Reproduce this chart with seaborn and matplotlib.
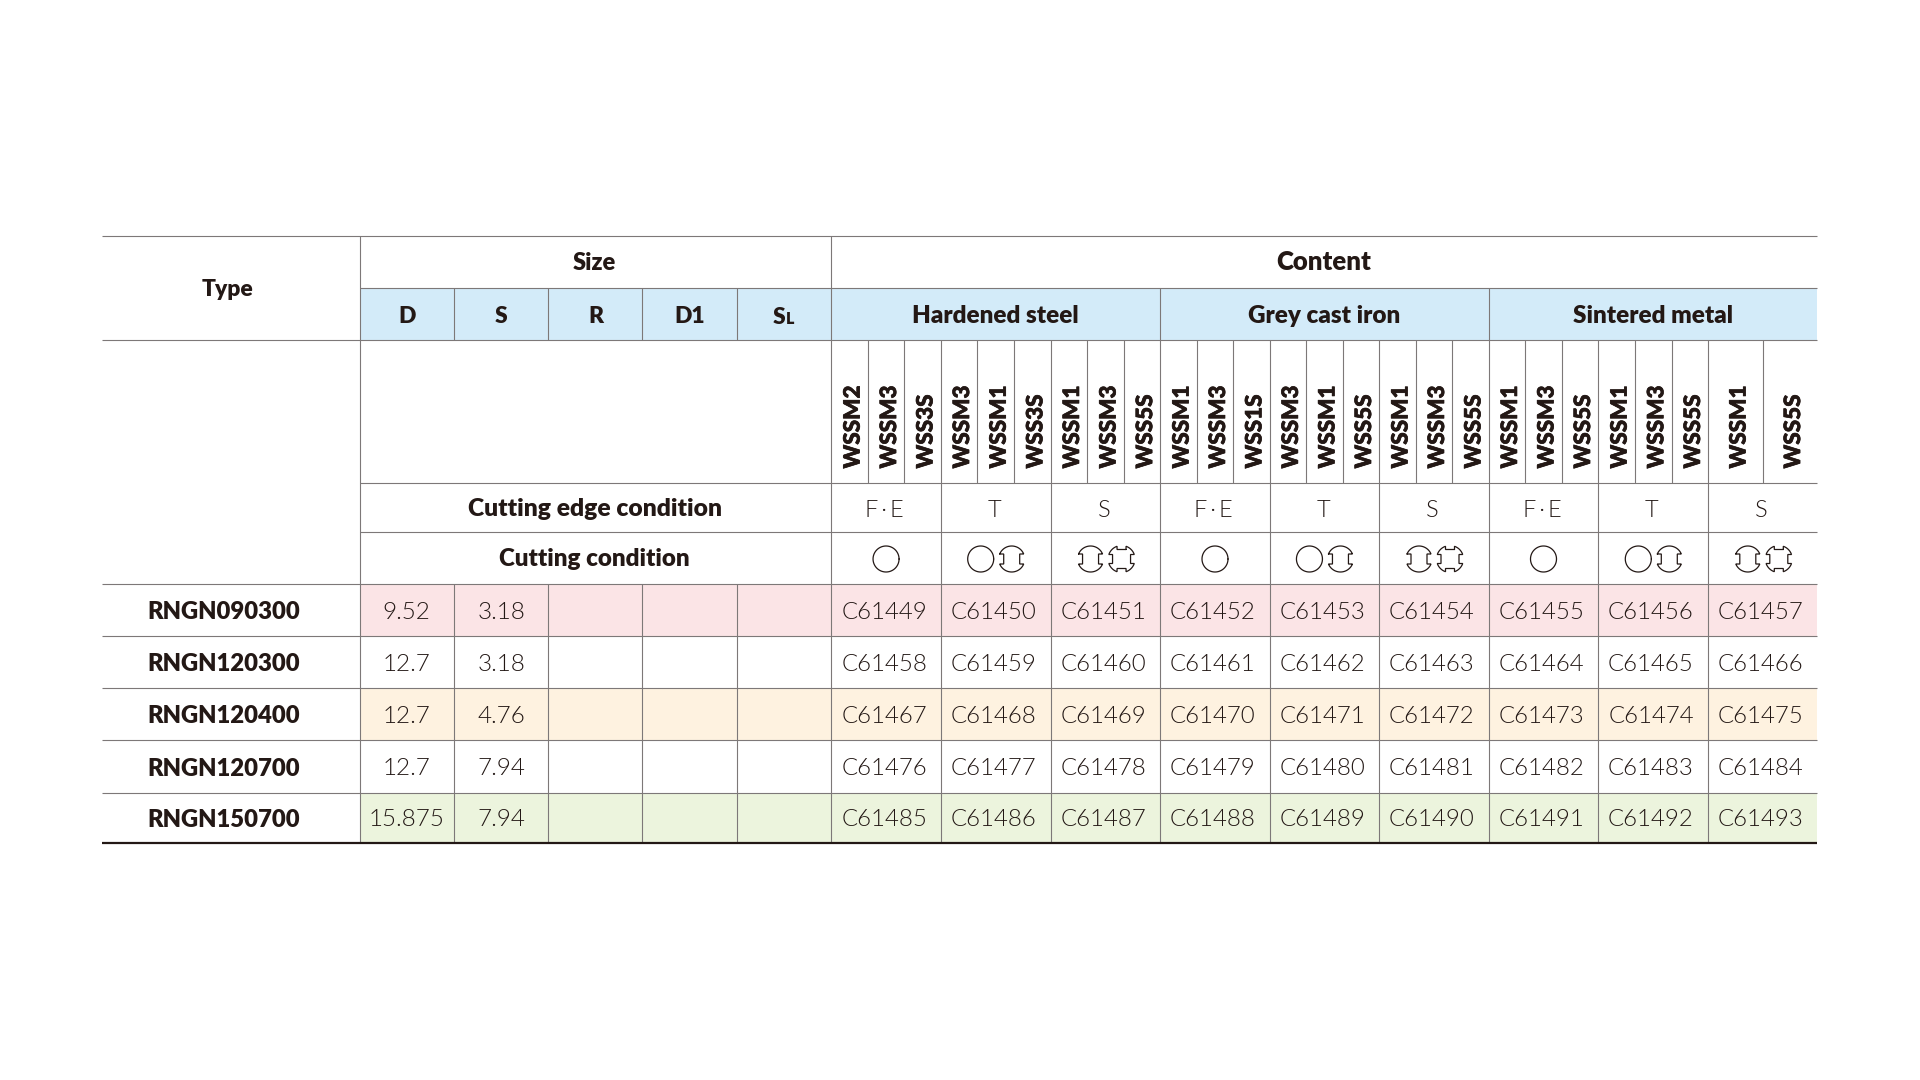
import numpy as np
import matplotlib
matplotlib.use('Agg')
from matplotlib import pyplot as plt
from matplotlib import patheffects
from matplotlib.colors import ListedColormap
import seaborn as sns

sns.set_theme(style='white')
plt.rcParams['font.family'] = ['Lato', 'DejaVu Sans']

types = ['RNGN090300', 'RNGN120300', 'RNGN120400', 'RNGN120700', 'RNGN150700']
size_heads = ['D', 'S', 'R', 'D1', '']
d_vals = ['9.52', '12.7', '12.7', '12.7', '15.875']
s_vals = ['3.18', '3.18', '4.76', '7.94', '7.94']
materials = ['Hardened steel', 'Grey cast iron', 'Sintered metal']
edge_cond = ['F\u2009·\u2009E', 'T', 'S', 'F\u2009·\u2009E', 'T', 'S', 'F\u2009·\u2009E', 'T', 'S']
cut_cond = ['O', 'OA', 'AB', 'O', 'OA', 'AB', 'O', 'OA', 'AB']
grades = [
    ['WSSM2', 'WSSM3', 'WSS3S'], ['WSSM3', 'WSSM1', 'WSS3S'], ['WSSM1', 'WSSM3', 'WSS5S'],
    ['WSSM1', 'WSSM3', 'WSS1S'], ['WSSM3', 'WSSM1', 'WSS5S'], ['WSSM1', 'WSSM3', 'WSS5S'],
    ['WSSM1', 'WSSM3', 'WSS5S'], ['WSSM1', 'WSSM3', 'WSS5S'], ['WSSM1', 'WSS5S'],
]
codes_1 = ['C61449', 'C61450', 'C61451', 'C61452', 'C61453', 'C61454', 'C61455', 'C61456', 'C61457']
codes_2 = ['C61458', 'C61459', 'C61460', 'C61461', 'C61462', 'C61463', 'C61464', 'C61465', 'C61466']
codes_3 = ['C61467', 'C61468', 'C61469', 'C61470', 'C61471', 'C61472', 'C61473', 'C61474', 'C61475']
codes_4 = ['C61476', 'C61477', 'C61478', 'C61479', 'C61480', 'C61481', 'C61482', 'C61483', 'C61484']
codes_5 = ['C61485', 'C61486', 'C61487', 'C61488', 'C61489', 'C61490', 'C61491', 'C61492', 'C61493']
codes = [codes_1, codes_2, codes_3, codes_4, codes_5]
row_colors = ['#fbe4e6', '#ffffff', '#fef2e0', '#ffffff', '#ecf4dd']

# layout in pixels
W, H = 1920, 1080
LEFT, RIGHT = 101.5, 1817.3
SIZE_X = np.array([359.6, 453.5, 548.4, 642.2, 736.6, 831.4])
GROUP_X = np.array([831.4, 940.7, 1050.7, 1160.4, 1269.6, 1379.3, 1488.7, 1598.3, 1708.3, 1817.3])
HEAD_Y = [236, 288.3, 340, 483.3, 532.3, 584.3]
ROW_Y = [584.3, 636.3, 688.3, 740.3, 793, 842.7]
TXT = '#231815'
LINE = '#7d7878'


def px_axes(x0, y0, x1, y1, **kw):
    return fig.add_axes([x0 / W, 1 - y1 / H, (x1 - x0) / W, (y1 - y0) / H], **kw)


def band(labels, color, x0, x1, y0, y1, dx=0, **text_kw):
    ax = px_axes(x0, y0, x1, y1)
    sns.heatmap(np.zeros((1, len(labels))), annot=np.array([labels]), fmt='', cbar=False,
                cmap=ListedColormap([color]), xticklabels=False, yticklabels=False,
                annot_kws=dict(color=TXT, va='center_baseline', **text_kw), ax=ax)
    for t in ax.texts:
        tx, ty = t.get_position()
        t.set_position((tx + dx * len(labels) / (x1 - x0), ty))
    return ax


def symbol(ax, kind, cx, cy):
    if kind == 'O':
        t = np.linspace(0, 2 * np.pi, 80)
        x, y = 13 * np.cos(t), 13 * np.sin(t)
    elif kind == 'A':
        a = np.arcsin(5 / 13)
        t1 = np.linspace(np.pi + a, 2 * np.pi - a, 30)
        t2 = np.linspace(a, np.pi - a, 30)
        x = np.r_[13 * np.cos(t1), 8, 8, 13 * np.cos(t2), -8, -8, 13 * np.cos(t1[0])]
        y = np.r_[13 * np.sin(t1), -5, 5, 13 * np.sin(t2), 5, -5, 13 * np.sin(t1[0])]
    else:
        a = np.arcsin(4.5 / 13.5)
        x, y = [], []
        for k, (sx, sy) in enumerate([(1, -1), (1, 1), (-1, 1), (-1, -1)]):
            t = np.linspace(a, np.pi / 2 - a, 8)
            px, py = sx * 13.5 * np.cos(t), sy * 13.5 * np.sin(t)
            if sx * sy > 0:
                px, py = px[::-1], py[::-1]
            if k % 2 == 0:
                x += [sx * 4.5]; y += [sy * 9.5]
                x += list(px[::-1]); y += list(py[::-1])
                x += [sx * 9]; y += [sy * 4.5]
            else:
                x += [sx * 9]; y += [sy * 4.5]
                x += list(px[::-1]); y += list(py[::-1])
                x += [sx * 4.5]; y += [sy * 9.5]
        x.append(x[0]); y.append(y[0])
        x, y = np.array(x), np.array(y)
    ax.plot(cx + x, cy + y, color=TXT, lw=0.9, solid_joinstyle='miter')


fig = plt.figure(figsize=(W / 100, H / 100), dpi=100, facecolor='white')

# blue header bands
band(size_heads, '#d3ebf9', SIZE_X[0], SIZE_X[-1], HEAD_Y[1], HEAD_Y[2], fontsize=16.5, fontweight='heavy')
band(materials, '#d3ebf9', GROUP_X[0], GROUP_X[-1], HEAD_Y[1], HEAD_Y[2], fontsize=17.5, fontweight='heavy')

# body rows
for i, row in enumerate(codes):
    size_row = [d_vals[i], s_vals[i], '', '', '']
    band(size_row, row_colors[i], SIZE_X[0], SIZE_X[-1], ROW_Y[i], ROW_Y[i + 1], fontsize=17.5, fontweight=300)
    band(row, row_colors[i], GROUP_X[0], GROUP_X[-1], ROW_Y[i], ROW_Y[i + 1], dx=-2, fontsize=17.3, fontweight=300)

# overlay with rules and the rest of the text
ov = px_axes(0, 0, W, H, facecolor='none', zorder=5)
ov.set_xlim(0, W)
ov.set_ylim(H, 0)
ov.axis('off')

thick = [patheffects.withStroke(linewidth=0.5, foreground=TXT)]
sub_x = []
for g, names in enumerate(grades):
    step = (GROUP_X[g + 1] - GROUP_X[g]) / len(names)
    for k, name in enumerate(names):
        xc = GROUP_X[g] + step * (k + 0.5)
        ov.text(xc + 3.5, 468.5, name, rotation=90, ha='center', va='bottom', fontsize=16.2,
                fontweight='black', color=TXT, path_effects=thick)
        if k > 0:
            sub_x.append(GROUP_X[g] + step * k)
    xm = (GROUP_X[g] + GROUP_X[g + 1]) / 2
    ov.text(xm - 1.5, 508.5, edge_cond[g], ha='center', va='center_baseline', fontsize=17,
            fontweight=300, color=TXT)
    kinds = cut_cond[g]
    if len(kinds) == 1:
        symbol(ov, kinds, xm, 559)
    else:
        symbol(ov, kinds[0], xm - 15, 559)
        symbol(ov, kinds[1], xm + 16, 559)

lw = 0.8
ov.vlines(sub_x, HEAD_Y[2], HEAD_Y[3], color=LINE, lw=lw)
ov.vlines(GROUP_X[1:-1], HEAD_Y[2], ROW_Y[-1], color=LINE, lw=lw)
ov.vlines(GROUP_X[[3, 6]], HEAD_Y[1], HEAD_Y[2], color=LINE, lw=lw)
ov.vlines([SIZE_X[0], SIZE_X[-1]], HEAD_Y[0], ROW_Y[-1], color=LINE, lw=lw)
ov.vlines(SIZE_X[1:-1], HEAD_Y[1], HEAD_Y[2], color=LINE, lw=lw)
ov.vlines(SIZE_X[1:-1], ROW_Y[0], ROW_Y[-1], color=LINE, lw=lw)
ov.hlines([HEAD_Y[0], HEAD_Y[2]] + ROW_Y[:-1], LEFT, RIGHT, color=LINE, lw=lw)
ov.hlines([HEAD_Y[1], HEAD_Y[3], HEAD_Y[4]], SIZE_X[0], RIGHT, color=LINE, lw=lw)
ov.hlines(ROW_Y[-1], LEFT, RIGHT, color=TXT, lw=1.6)

bold = dict(ha='center', va='center_baseline', color=TXT, fontweight='heavy')
ov.text(228, 287.5, 'Type', fontsize=16.5, **bold)
ov.text(594, 260.5, 'Size', fontsize=17, **bold)
ov.text(1324, 260.5, 'Content', fontsize=18.5, **bold)
ov.text(595, 506.5, 'Cutting edge condition', fontsize=17.7, **bold)
ov.text(594, 556.5, 'Cutting condition', fontsize=17.4, **bold)
# S with a small L, the last size column
ov.text(779, 315, 'S', fontsize=16.5, **bold)
ov.text(790, 317, 'L', fontsize=11.5, **bold)

for i, name in enumerate(types):
    ov.text(224, (ROW_Y[i] + ROW_Y[i + 1]) / 2, name, fontsize=17.2, **bold)

plt.savefig('out.png', dpi=100)
